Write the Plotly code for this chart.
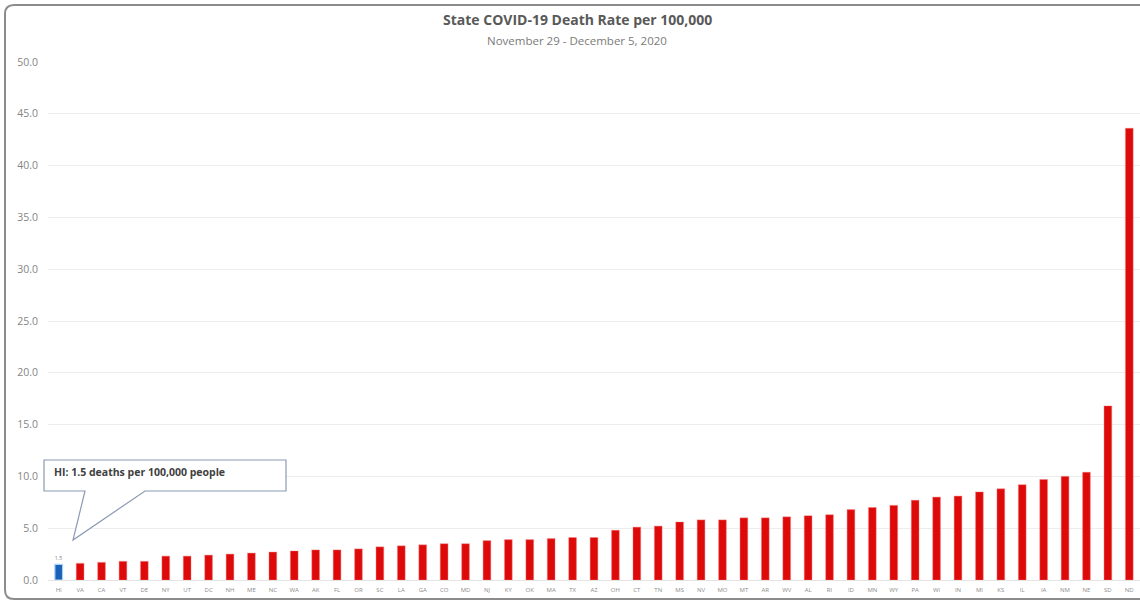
import plotly.graph_objects as go

# Weekly COVID-19 death rate per 100,000 residents, sorted ascending
states = ["HI", "VA", "CA", "VT", "DE", "NY", "UT", "DC", "NH", "ME", "NC", "WA", "AK",
          "FL", "OR", "SC", "LA", "GA", "CO", "MD", "NJ", "KY", "OK", "MA", "TX", "AZ",
          "OH", "CT", "TN", "MS", "NV", "MO", "MT", "AR", "WV", "AL", "RI", "ID", "MN",
          "WY", "PA", "WI", "IN", "MI", "KS", "IL", "IA", "NM", "NE", "SD", "ND"]
rates = [1.5, 1.6, 1.7, 1.8, 1.8, 2.3, 2.3, 2.4, 2.5, 2.6, 2.7, 2.8, 2.9,
         2.9, 3.0, 3.2, 3.3, 3.4, 3.5, 3.5, 3.8, 3.9, 3.9, 4.0, 4.1, 4.1,
         4.8, 5.1, 5.2, 5.6, 5.8, 5.8, 6.0, 6.0, 6.1, 6.2, 6.3, 6.8, 7.0,
         7.2, 7.7, 8.0, 8.1, 8.5, 8.8, 9.2, 9.7, 10.0, 10.4, 16.8, 43.6]
y_ticks = [0, 5, 10, 15, 20, 25, 30, 35, 40, 45, 50]

highlight = "HI"
hi_rate = rates[states.index(highlight)]

RED = "#DE0A0A"
BLUE = "#1A62B8"

bar_colors = [BLUE if s == highlight else RED for s in states]
edge_colors = ["#A9D3F3" if s == highlight else "rgba(240,120,120,0.35)" for s in states]
bar_text = [f"{r:.1f}" if s == highlight else "" for s, r in zip(states, rates)]

fig = go.Figure(go.Bar(
    x=states,
    y=rates,
    marker=dict(color=bar_colors, line=dict(color=edge_colors, width=1.2)),
    text=bar_text,
    textposition="outside",
    textfont=dict(size=6, color="#808080", family="Open Sans"),
    cliponaxis=False,
    hoverinfo="x+y",
))

# plot-area geometry (pixels) used to place the decorations in paper units
W, H = 1140, 603
L, R, T, B = 48, 0, 62, 23
PW, PH = W - L - R, H - T - B


def px(xp):
    return (xp - L) / PW


def py(yp):
    return (H - B - yp) / PH


# rounded outer frame
x0, x1, y0, y1, rr = 5, 1150, 5, 599, 9
frame = (f"M {px(x0 + rr)},{py(y0)} L {px(x1)},{py(y0)} "
         f"M {px(x1)},{py(y1)} L {px(x0 + rr)},{py(y1)} "
         f"Q {px(x0)},{py(y1)} {px(x0)},{py(y1 - rr)} "
         f"L {px(x0)},{py(y0 + rr)} "
         f"Q {px(x0)},{py(y0)} {px(x0 + rr)},{py(y0)}")

# callout box pointing at the highlighted bar
bx0, bx1, by0, by1 = 44, 286, 460, 491
p0, p1, tipx, tipy = 85, 145, 73, 540
callout = (f"M {px(bx0)},{py(by0)} L {px(bx1)},{py(by0)} L {px(bx1)},{py(by1)} "
           f"L {px(p1)},{py(by1)} L {px(tipx)},{py(tipy)} L {px(p0)},{py(by1)} "
           f"L {px(bx0)},{py(by1)} Z")

fig.update_layout(
    width=W, height=H,
    margin=dict(l=L, r=R, t=T, b=B),
    paper_bgcolor="white",
    plot_bgcolor="white",
    showlegend=False,
    bargap=0.64,
    font=dict(family="Open Sans", color="#595959"),
    xaxis=dict(
        type="category",
        range=[-0.5, len(states) - 0.5],
        showgrid=False,
        showline=True,
        linecolor="#E4E4E4",
        linewidth=1,
        ticks="",
        tickfont=dict(size=6, color="#8C8C8C"),
        ticklabelstandoff=4,
    ),
    yaxis=dict(
        range=[0, 50],
        tickvals=y_ticks,
        tickformat=".1f",
        showgrid=True,
        gridcolor="#EDEDED",
        gridwidth=1,
        zeroline=False,
        showline=False,
        ticks="",
        tickfont=dict(size=10.5, color="#858585"),
        ticklabelstandoff=9,
    ),
    shapes=[
        dict(type="path", xref="paper", yref="paper", path=frame,
             line=dict(color="#8C8C8C", width=2), layer="above"),
        dict(type="path", xref="paper", yref="paper", path=callout,
             fillcolor="white", line=dict(color="#8A9AB3", width=1.2), layer="above"),
    ],
    annotations=[
        dict(text="<b>State COVID-19 Death Rate per 100,000</b>",
             xref="paper", yref="paper", x=px(577), y=py(20),
             xanchor="center", yanchor="middle", showarrow=False,
             font=dict(size=14, color="#595959", family="Open Sans")),
        dict(text="November 29 - December 5, 2020",
             xref="paper", yref="paper", x=px(577), y=py(41),
             xanchor="center", yanchor="middle", showarrow=False,
             font=dict(size=11.5, color="#7A7A7A", family="Open Sans")),
        dict(text=f"<b>{highlight}: {hi_rate:.1f} deaths per 100,000 people</b>",
             xref="paper", yref="paper", x=px(52), y=py(472),
             xanchor="left", yanchor="middle", showarrow=False,
             font=dict(size=10.5, color="#404040", family="Open Sans")),
    ],
)

fig.write_html("out.html")
